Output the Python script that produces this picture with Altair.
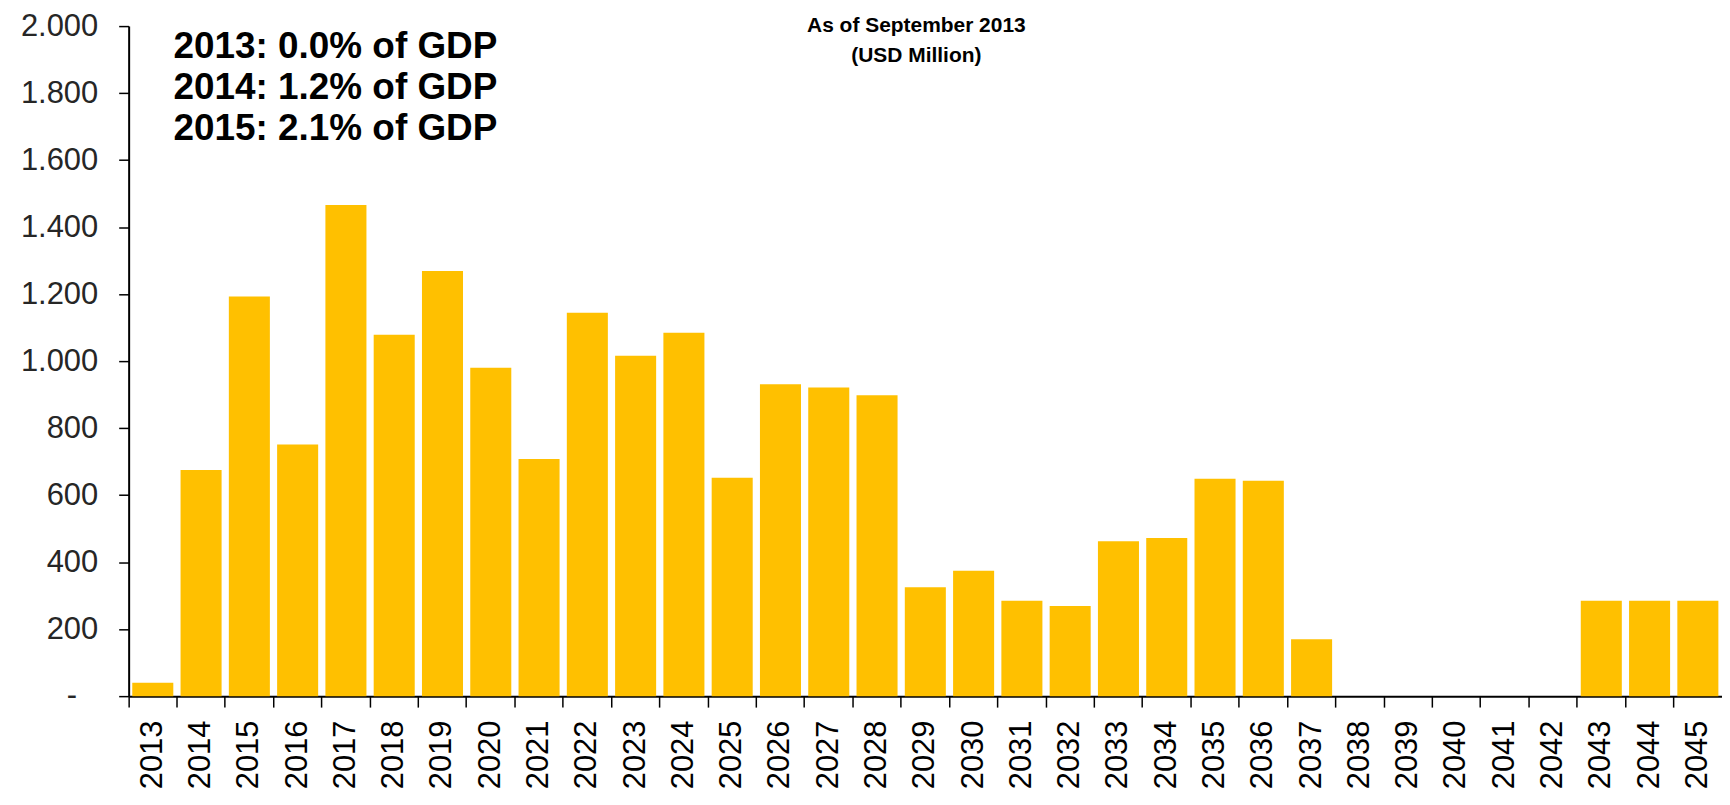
import altair as alt
import pandas as pd

years = [str(y) for y in range(2013, 2046)]
values = [40, 675, 1193, 751, 1466, 1079, 1269, 980, 708, 1144, 1016, 1085, 652,
          931, 921, 898, 325, 374, 285, 269, 462, 472, 649, 643, 170,
          0, 0, 0, 0, 0, 285, 285, 285]
y_ticks = list(range(0, 2001, 200))
zero_label = ["-"]
notes = ["2013: 0.0% of GDP", "2014: 1.2% of GDP", "2015: 2.1% of GDP"]
title_lines = ["As of September 2013", "(USD Million)"]

df = pd.DataFrame({"year": years, "value": values})

FONT = "Liberation Sans"
W, H = 1598, 672
y_scale = alt.Scale(domain=[0, 2000], nice=False, zero=True)

bars = alt.Chart(df).mark_bar(color="#FFC000", width=alt.RelativeBandSize(0.85)).encode(
    x=alt.X("year:N", sort=years,
            scale=alt.Scale(paddingInner=0, paddingOuter=0),
            axis=alt.Axis(title=None, labelAngle=270, labelFontSize=31, labelFont=FONT,
                          labelColor="#000000", labelPadding=13, tickSize=11,
                          tickWidth=1.5, tickColor="#000000", domainColor="#000000",
                          domainWidth=2, bandPosition=0, labelBound=False)),
    y=alt.Y("value:Q", scale=y_scale,
            axis=alt.Axis(title=None, values=y_ticks, grid=False, labelFontSize=31,
                          labelFont=FONT, labelColor="#262626", labelPadding=21,
                          tickSize=10, tickWidth=1.5, tickColor="#000000",
                          domainColor="#000000", domainWidth=2,
                          labelExpr="datum.value == 0 ? '' : replace(format(datum.value, ','), ',', '.')")),
)

zero_df = pd.DataFrame({"t": zero_label, "v": [0]})
zero_mark = alt.Chart(zero_df).mark_text(
    font=FONT, fontSize=31, align="center", baseline="middle", color="#262626"
).encode(
    text="t:N",
    x=alt.value(-57),
    y=alt.Y("v:Q", scale=y_scale, axis=None),
)

notes_df = pd.DataFrame({"t": notes, "i": [0, 1, 2]})
note_marks = alt.Chart(notes_df).mark_text(
    font=FONT, fontSize=37, fontWeight="bold", align="left", baseline="alphabetic",
    color="#000000"
).encode(
    text="t:N",
    x=alt.value(45),
    y=alt.Y("i:O", scale=alt.Scale(domain=[0, 1, 2], range=[32, 114], padding=0), axis=None),
)

title_df = pd.DataFrame({"t": title_lines, "i": [0, 1]})
title_marks = alt.Chart(title_df).mark_text(
    font=FONT, fontSize=21, fontWeight="bold", align="center", baseline="alphabetic",
    color="#000000"
).encode(
    text="t:N",
    x=alt.value(790),
    y=alt.Y("i:O", scale=alt.Scale(domain=[0, 1], range=[6, 36], padding=0), axis=None),
)

chart = alt.layer(bars, zero_mark, note_marks, title_marks).resolve_scale(y="independent").properties(
    width=W, height=H,
    autosize=alt.AutoSizeParams(type="none"),
    padding={"left": 121, "top": 17, "right": 0, "bottom": 95},
).configure_view(stroke=None, clip=False)

chart.save("out.html", embed_options={"renderer": "svg", "actions": False})
